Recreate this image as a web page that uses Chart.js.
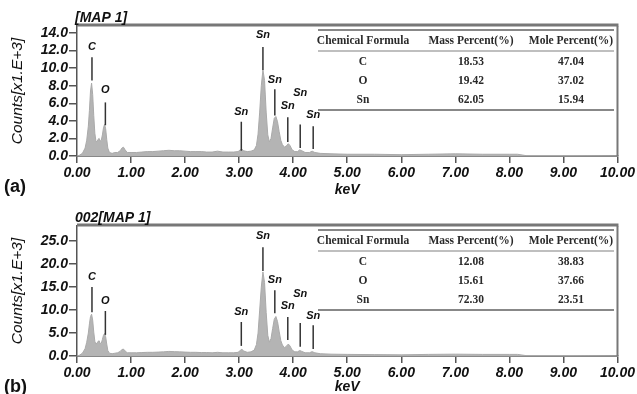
<!DOCTYPE html>
<html>
<head>
<meta charset="utf-8">
<script src="https://cdn.jsdelivr.net/npm/chart.js@4.4.0/dist/chart.umd.min.js"></script>
<style>
html, body { margin: 0; padding: 0; background: #fff; }
canvas { display: block; }
</style>
</head>
<body>
<canvas id="chartA" width="637" height="197"></canvas>
<canvas id="chartB" width="637" height="197"></canvas>
<script>
// energy channels (keV) shared by both spectra
var energy = [0.00,0.05,0.10,0.15,0.18,0.21,0.23,0.25,0.27,0.29,0.31,0.33,0.35,0.37,0.39,0.41,0.43,0.45,0.47,0.49,
  0.51,0.53,0.55,0.57,0.60,0.65,0.70,0.75,0.80,0.83,0.86,0.89,0.93,1.00,1.10,1.20,1.30,1.40,1.50,1.60,
  1.70,1.80,1.90,2.00,2.10,2.20,2.30,2.40,2.50,2.60,2.70,2.80,2.90,2.98,3.02,3.05,3.08,3.15,3.22,3.28,
  3.32,3.35,3.38,3.41,3.44,3.47,3.50,3.53,3.56,3.59,3.62,3.65,3.68,3.71,3.74,3.77,3.80,3.84,3.88,3.91,
  3.94,3.98,4.03,4.08,4.12,4.16,4.22,4.30,4.35,4.40,4.50,4.70,5.00,5.50,6.00,6.50,7.00,7.50,8.00,8.15,
  8.30,9.00,10.00];

// counts [x1.E+3], spectrum (a)
var countsA = [0.0,0.1,0.3,0.9,1.8,3.4,5.2,7.4,8.3,7.0,4.6,2.6,1.7,1.6,1.9,2.0,1.7,1.8,2.4,3.2,
  3.6,3.1,1.9,0.9,0.4,0.3,0.4,0.4,0.6,0.9,1.0,0.7,0.4,0.4,0.4,0.45,0.5,0.5,0.55,0.6,
  0.65,0.6,0.6,0.55,0.5,0.5,0.5,0.45,0.45,0.55,0.45,0.45,0.45,0.5,0.7,0.8,0.6,0.5,0.55,0.7,
  1.2,2.5,5.0,8.0,9.8,8.6,5.0,2.4,1.6,2.0,3.2,4.3,4.5,3.9,2.8,1.8,1.3,1.0,1.2,1.4,
  1.2,0.7,0.5,0.5,0.7,0.6,0.4,0.4,0.55,0.4,0.3,0.25,0.2,0.2,0.15,0.2,0.25,0.2,0.2,0.2,
  0.05,0.05,0.0];

// counts [x1.E+3], spectrum (b)
var countsB = [0.0,0.2,0.6,1.6,3.0,5.0,7.0,8.6,9.1,7.8,5.2,3.2,2.6,2.8,3.2,3.3,2.7,2.8,3.6,4.5,
  4.9,4.2,2.6,1.2,0.6,0.5,0.6,0.7,1.0,1.4,1.5,1.1,0.7,0.7,0.7,0.75,0.8,0.8,0.85,0.9,
  1.0,0.95,0.9,0.85,0.8,0.8,0.75,0.75,0.7,0.8,0.7,0.7,0.7,0.8,1.2,1.5,1.1,0.8,0.9,1.3,
  2.5,5.0,10.0,15.0,18.3,16.0,9.5,4.5,3.0,3.8,6.0,8.0,8.6,7.5,5.4,3.4,2.4,1.8,2.2,2.6,
  2.2,1.3,0.9,0.9,1.2,1.0,0.7,0.7,0.95,0.7,0.5,0.4,0.35,0.3,0.25,0.35,0.4,0.35,0.35,0.35,
  0.1,0.1,0.0];

// peak identification lines
var peakNames = ['C', 'O', 'Sn', 'Sn', 'Sn', 'Sn', 'Sn', 'Sn'];
var peakKeV = [0.277, 0.525, 3.04, 3.44, 3.66, 3.90, 4.13, 4.37];
var peakLowA = [8.6, 3.5, 0.6, 9.8, 4.6, 1.6, 0.9, 0.8];
var peakHighA = [11.25, 6.1, 3.9, 12.4, 7.6, 4.4, 3.6, 3.4];
var peakLabelA = [12.4, 7.5, 5.0, 13.8, 8.7, 5.7, 7.2, 4.7];
var peakLowB = [9.5, 4.6, 2.2, 18.5, 9.3, 3.5, 2.0, 1.5];
var peakHighB = [15.0, 9.8, 7.4, 23.7, 14.3, 8.5, 7.2, 6.7];
var peakLabelB = [17.2, 12.0, 9.6, 26.1, 16.5, 10.9, 13.5, 8.7];

// composition tables
var tableHeader = ['Chemical Formula', 'Mass Percent(%)', 'Mole Percent(%)'];
var elements = ['C', 'O', 'Sn'];
var massA = ['18.53', '19.42', '62.05'];
var moleA = ['47.04', '37.02', '15.94'];
var massB = ['12.08', '15.61', '72.30'];
var moleB = ['38.83', '37.66', '23.51'];

var tickFont = { family: '"Liberation Sans", Arial, sans-serif', size: 14, style: 'italic', weight: 'bold' };

var panelPlugin = {
  id: 'panel',
  afterDatasetsDraw: function(chart) {
    var p = chart.options.plugins.panel;
    var ctx = chart.ctx, area = chart.chartArea;
    var xs = chart.scales.x, ys = chart.scales.y;
    ctx.save();

    // frame: top and right edges
    ctx.strokeStyle = '#777';
    ctx.lineWidth = 3;
    ctx.beginPath();
    ctx.moveTo(area.left, area.top - 1);
    ctx.lineTo(area.right + 1, area.top - 1);
    ctx.stroke();
    ctx.lineWidth = 2;
    ctx.beginPath();
    ctx.moveTo(area.right, area.top);
    ctx.lineTo(area.right, area.bottom);
    ctx.stroke();

    // peak markers
    ctx.strokeStyle = '#333';
    ctx.fillStyle = '#111';
    ctx.lineWidth = 1.5;
    ctx.font = 'italic bold 11px "Liberation Sans", Arial, sans-serif';
    ctx.textAlign = 'center';
    ctx.textBaseline = 'middle';
    for (var i = 0; i < peakKeV.length; i++) {
      var px = xs.getPixelForValue(peakKeV[i]);
      ctx.beginPath();
      ctx.moveTo(px, ys.getPixelForValue(p.low[i]));
      ctx.lineTo(px, ys.getPixelForValue(p.high[i]));
      ctx.stroke();
      ctx.fillText(peakNames[i], px, ys.getPixelForValue(p.label[i]));
    }

    // table
    var t = area.top + 4, l = 318, r = 614;
    var cols = [363, 471, 571];
    ctx.strokeStyle = '#888';
    ctx.lineWidth = 2;
    ctx.beginPath(); ctx.moveTo(l, t); ctx.lineTo(r, t); ctx.stroke();
    ctx.beginPath(); ctx.moveTo(l, t + 80); ctx.lineTo(r, t + 80); ctx.stroke();
    ctx.strokeStyle = '#aaa';
    ctx.lineWidth = 1.5;
    ctx.beginPath(); ctx.moveTo(l, t + 21); ctx.lineTo(r, t + 21); ctx.stroke();
    ctx.fillStyle = '#2a2a2a';
    ctx.font = 'bold 11.5px "Liberation Serif", "Times New Roman", serif';
    tableHeader.forEach(function(h, j) { ctx.fillText(h, cols[j], t + 11.5); });
    elements.forEach(function(el, k) {
      var ry = t + 32 + k * 19;
      ctx.fillText(el, cols[0], ry);
      ctx.fillText(p.mass[k], cols[1], ry);
      ctx.fillText(p.mole[k], cols[2], ry);
    });

    // titles
    ctx.fillStyle = '#111';
    ctx.textAlign = 'left';
    ctx.font = 'italic bold 14px "Liberation Sans", Arial, sans-serif';
    ctx.fillText(p.title, area.left - 2, area.top - 8);
    ctx.textBaseline = 'alphabetic';
    ctx.font = 'bold 18px "Liberation Sans", Arial, sans-serif';
    ctx.fillText(p.tag, 4, p.tagY);
    ctx.restore();
  }
};

function makeChart(id, counts, yMax, yStep, top, xHeight, opts) {
  return new Chart(document.getElementById(id), {
    type: 'line',
    data: {
      labels: energy,
      datasets: [{
        data: energy.map(function(e, i) { return { x: e, y: counts[i] }; }),
        fill: 'origin',
        backgroundColor: '#b4b4b4',
        borderColor: '#aaaaaa',
        borderWidth: 1,
        pointRadius: 0,
        tension: 0
      }]
    },
    options: {
      responsive: false,
      animation: false,
      layout: { padding: { top: top, right: 19, left: 0, bottom: 0 } },
      plugins: {
        legend: { display: false },
        tooltip: { enabled: false },
        panel: opts
      },
      scales: {
        x: {
          type: 'linear',
          min: 0,
          max: 10,
          afterFit: function(s) { s.height = xHeight; },
          grid: { drawOnChartArea: false, color: '#555', tickLength: 7, lineWidth: 1.5 },
          border: { color: '#888', width: 2 },
          ticks: {
            stepSize: 1,
            padding: 2,
            color: '#111',
            font: tickFont,
            maxRotation: 0,
            autoSkip: false,
            callback: function(v) { return v.toFixed(2); }
          },
          title: {
            display: true,
            text: 'keV',
            color: '#111',
            font: { family: tickFont.family, size: 14, style: 'italic', weight: 'bold', lineHeight: 1 },
            padding: { top: 0, bottom: 0 }
          }
        },
        y: {
          min: 0,
          max: yMax,
          afterFit: function(s) { s.width = 77; },
          grid: { drawOnChartArea: false, color: '#555', tickLength: 8, lineWidth: 1.5 },
          border: { color: '#555', width: 1.5 },
          ticks: {
            stepSize: yStep,
            includeBounds: false,
            autoSkip: false,
            padding: 1,
            color: '#111',
            font: tickFont,
            callback: function(v) { return v.toFixed(1); }
          },
          title: {
            display: true,
            text: 'Counts[x1.E+3]',
            color: '#111',
            font: { family: tickFont.family, size: 15.5, style: 'italic' },
            padding: { top: 8, bottom: 0 }
          }
        }
      }
    },
    plugins: [panelPlugin]
  });
}

makeChart('chartA', countsA, 14.8, 2, 26, 41, {
  low: peakLowA, high: peakHighA, label: peakLabelA,
  mass: massA, mole: moleA, title: '[MAP 1]', tag: '(a)', tagY: 192
});
makeChart('chartB', countsB, 28.3, 5, 29, 38, {
  low: peakLowB, high: peakHighB, label: peakLabelB,
  mass: massB, mole: moleB, title: '002[MAP 1]', tag: '(b)', tagY: 195
});
</script>
</body>
</html>
